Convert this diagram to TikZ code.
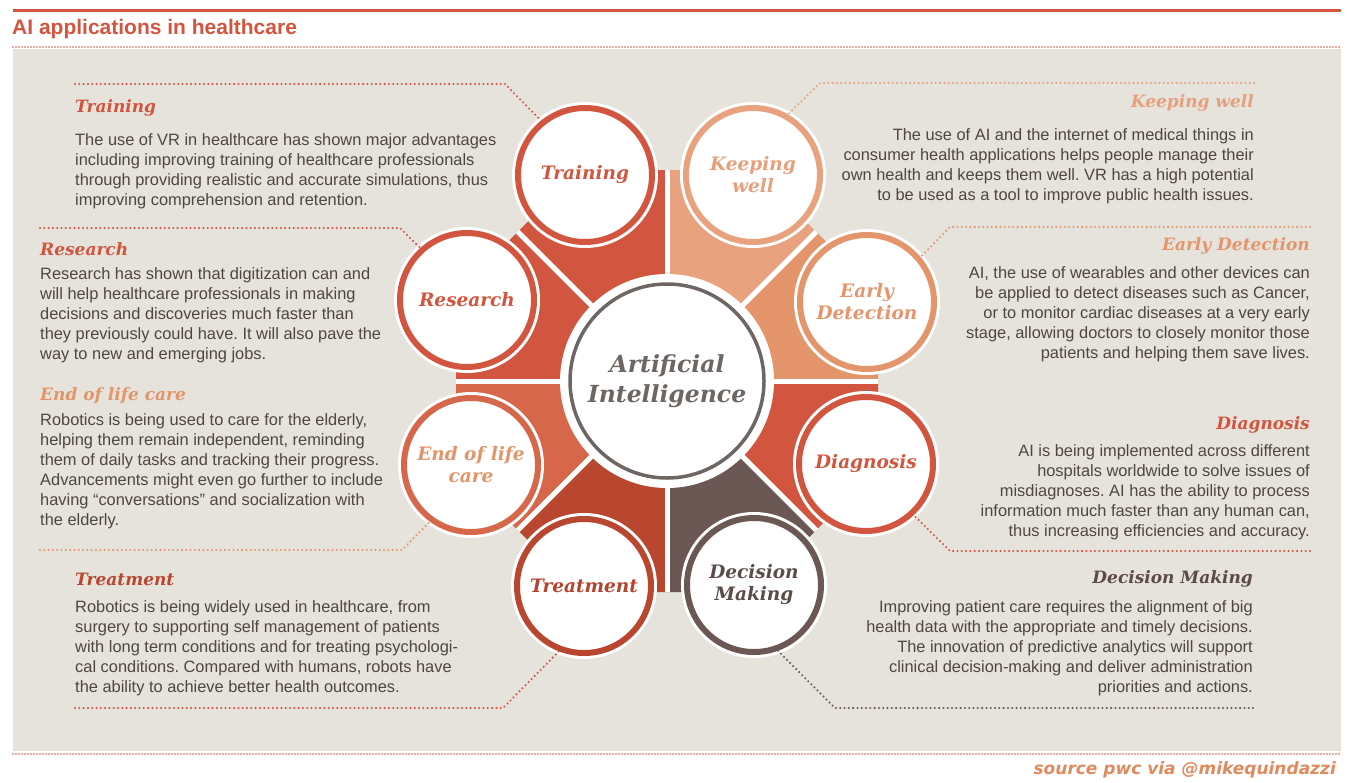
\documentclass[tikz,border=0pt]{standalone}
\usepackage{fontspec}
\setmainfont{Liberation Sans}
\newfontfamily\slab{DejaVu Serif}
\newfontfamily\verd{DejaVu Sans}
\usetikzlibrary{calc}
\frenchspacing

\definecolor{pwcred}{HTML}{D2553F}
\definecolor{pwcdark}{HTML}{B9462F}
\definecolor{pwcrust}{HTML}{D6674B}
\definecolor{pwcpeach}{HTML}{E8A27E}
\definecolor{pwcorange}{HTML}{E4956B}
\definecolor{pwcbrown}{HTML}{6B5753}
\definecolor{pwcgrey}{HTML}{6E6663}
\definecolor{bodytext}{HTML}{4F4542}
\definecolor{panel}{HTML}{E6E2DC}
\definecolor{eollabel}{HTML}{E3956A}
\definecolor{keeplabel}{HTML}{E6A07B}
\definecolor{declabel}{HTML}{5C4B48}
\definecolor{treatlabel}{HTML}{B5442F}
\definecolor{srcorange}{HTML}{E08B5E}

\begin{document}
\begin{tikzpicture}[x=1pt,y=-1pt,
  sat/.style={circle, inner sep=0pt, minimum size=134pt, line width=6pt,
    fill=white, align=center,
    font=\slab\bfseries\itshape\fontsize{18.5}{22}\selectfont},
  head/.style={inner sep=0pt, font=\slab\bfseries\itshape\fontsize{17}{20}\selectfont},
  body/.style={inner sep=0pt, text=bodytext, font=\fontsize{16.4}{20}\selectfont},
  conn/.style={line width=2.3pt, dash pattern=on 0pt off 4.3pt, line cap=round},
  rule/.style={line width=1.6pt, dash pattern=on 0pt off 3pt, line cap=round, pwcred}]

\useasboundingbox (0,0) rectangle (1356,782);
\fill[white] (0,0) rectangle (1356,782);

% header and panel
\draw[pwcred, line width=3pt] (13,10) -- (1341,10);
\node[anchor=west, inner sep=0pt, text=pwcred,
  font=\bfseries\fontsize{21}{24}\selectfont] (title) at (12,29) {AI applications in healthcare};
\fill[panel] (13,49) rectangle (1341,751);
\draw[rule] (13,47) -- (1341,47);
\draw[rule] (13,754) -- (1341,754);
\node[anchor=east, inner sep=0pt, text=srcorange,
  font=\verd\bfseries\itshape\fontsize{17}{20}\selectfont] (src) at (1336,770) {source pwc via @mikequindazzi};

% hub and segments
\coordinate (C) at (667,381);
\foreach \a/\col in {90/pwcred, 45/pwcpeach, 0/pwcorange, -45/pwcred,
                     -90/pwcbrown, -135/pwcdark, 180/pwcrust, 135/pwcred}{
  \fill[\col] (C) -- ($(C)+(\a:211pt)$) -- ($(C)+(\a+22.5:228.4pt)$)
      -- ($(C)+(\a+45:211pt)$) -- cycle;
}
\foreach \a in {0,45,...,315}{
  \draw[white, line width=5pt] (C) -- ($(C)+(\a:211pt)$);
}
\fill[white] (C) circle[radius=107pt];
\node[circle, draw=pwcgrey, line width=3.5pt, minimum size=194pt, inner sep=0pt,
  fill=white, align=center, text=pwcgrey,
  font=\slab\bfseries\itshape\fontsize{23.5}{30}\selectfont] (ai) at (C) {Artificial\\Intelligence};

% satellites
\foreach \p in {(585,175),(753,175),(867,302),(866,464),(754,585),(584,586),(471,465),(467,300)}{
  \fill[white] \p circle[radius=73pt];
}
\node[sat, draw=pwcred, text=pwcred] (train) at (585,175) {Training};
\node[sat, draw=pwcpeach, text=keeplabel] (keep) at (753,175) {Keeping\\well};
\node[sat, draw=pwcorange, text=pwcorange] (early) at (867,302) {Early\\Detection};
\node[sat, draw=pwcred, text=pwcred] (diag) at (866,464) {Diagnosis};
\node[sat, draw=pwcbrown, text=declabel] (dec) at (754,585) {Decision\\Making};
\node[sat, draw=pwcdark, text=treatlabel] (treat) at (584,586) {Treatment};
\node[sat, draw=pwcrust, text=eollabel] (eol) at (471,465) {End of life\\care};
\node[sat, draw=pwcred, text=pwcred] (res) at (467,300) {Research};

% connector corners
\coordinate (train-a) at (75,84);   \coordinate (train-b) at (505,84);
\coordinate (res-a) at (40,228);    \coordinate (res-b) at (400,228);
\coordinate (eol-a) at (40,550);    \coordinate (eol-b) at (402,550);
\coordinate (treat-a) at (75,708);  \coordinate (treat-b) at (503,708);
\coordinate (keep-a) at (1254,83);  \coordinate (keep-b) at (820,83);
\coordinate (early-a) at (1310,227);\coordinate (early-b) at (950,227);
\coordinate (diag-a) at (1310,551); \coordinate (diag-b) at (950,551);
\coordinate (dec-a) at (1253,708);  \coordinate (dec-b) at (835,708);

\draw[conn, pwcred] (train-a) -- (train-b) -- (train.129);
\draw[conn, pwcred] (res-a) -- (res-b) -- (res.132);
\draw[conn, pwcorange] (eol-a) -- (eol-b) -- (eol.234);
\draw[conn, pwcred] (treat-a) -- (treat-b) -- (treat.249);
\draw[conn, pwcpeach] (keep-a) -- (keep-b) -- (keep.60);
\draw[conn, pwcorange] (early-a) -- (early-b) -- (early.40);
\draw[conn, pwcred] (diag-a) -- (diag-b) -- (diag.-47);
\draw[conn, pwcbrown] (dec-a) -- (dec-b) -- (dec.-70);

% left column
\node[head, anchor=west, text=pwcred] (h-train) at (75,108) {Training};
\node[body, anchor=north west, align=left] (t-train) at (75,133)
  {The use of VR in healthcare has shown major advantages\\
   including improving training of healthcare professionals\\
   through providing realistic and accurate simulations, thus\\
   improving comprehension and retention.};

\node[head, anchor=west, text=pwcred] (h-res) at (40,249) {Research};
\node[body, anchor=north west, align=left] (t-res) at (40,267)
  {Research has shown that digitization can and\\
   will help healthcare professionals in making\\
   decisions and discoveries much faster than\\
   they previously could have. It will also pave the\\
   way to new and emerging jobs.};

\node[head, anchor=west, text=eollabel] (h-eol) at (40,396) {End of life care};
\node[body, anchor=north west, align=left] (t-eol) at (40,413)
  {Robotics is being used to care for the elderly,\\
   helping them remain independent, reminding\\
   them of daily tasks and tracking their progress.\\
   Advancements might even go further to include\\
   having “conversations” and socialization with\\
   the elderly.};

\node[head, anchor=west, text=pwcdark] (h-treat) at (75,579) {Treatment};
\node[body, anchor=north west, align=left] (t-treat) at (75,600)
  {Robotics is being widely used in healthcare, from\\
   surgery to supporting self management of patients\\
   with long term conditions and for treating psychologi-\\
   cal conditions. Compared with humans, robots have\\
   the ability to achieve better health outcomes.};

% right column
\node[head, anchor=east, text=keeplabel] (h-keep) at (1254,103) {Keeping well};
\node[body, anchor=north east, align=right] (t-keep) at (1254,128)
  {The use of AI and the internet of medical things in\\
   consumer health applications helps people manage their\\
   own health and keeps them well. VR has a high potential\\
   to be used as a tool to improve public health issues.};

\node[head, anchor=east, text=pwcorange] (h-early) at (1310,246) {Early Detection};
\node[body, anchor=north east, align=right] (t-early) at (1310,266)
  {AI, the use of wearables and other devices can\\
   be applied to detect diseases such as Cancer,\\
   or to monitor cardiac diseases at a very early\\
   stage, allowing doctors to closely monitor those\\
   patients and helping them save lives.};

\node[head, anchor=east, text=pwcred] (h-diag) at (1310,425) {Diagnosis};
\node[body, anchor=north east, align=right] (t-diag) at (1310,444)
  {AI is being implemented across different\\
   hospitals worldwide to solve issues of\\
   misdiagnoses. AI has the ability to process\\
   information much faster than any human can,\\
   thus increasing efficiencies and accuracy.};

\node[head, anchor=east, text=declabel] (h-dec) at (1253,579) {Decision Making};
\node[body, anchor=north east, align=right] (t-dec) at (1253,600)
  {Improving patient care requires the alignment of big\\
   health data with the appropriate and timely decisions.\\
   The innovation of predictive analytics will support\\
   clinical decision-making and deliver administration\\
   priorities and actions.};

\end{tikzpicture}
\end{document}
